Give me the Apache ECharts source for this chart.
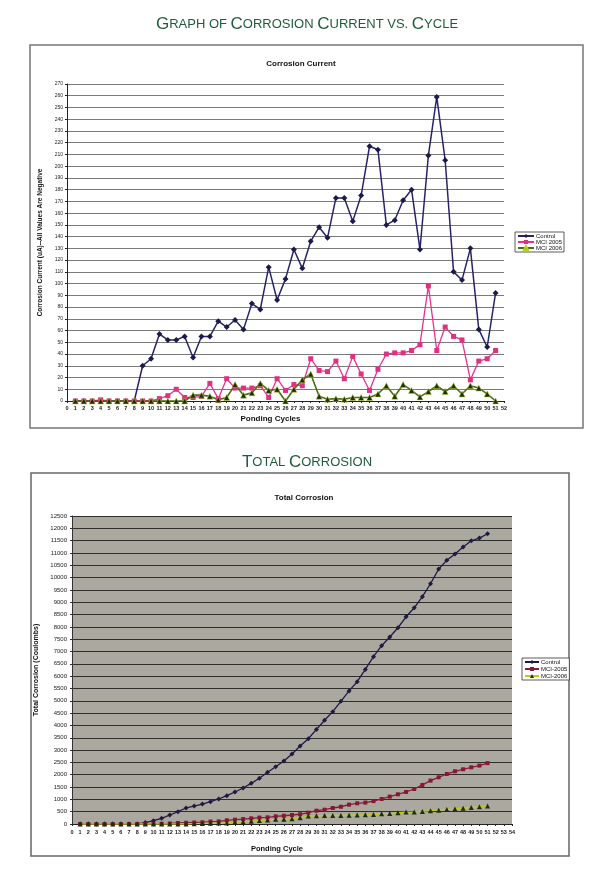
<!DOCTYPE html>
<html><head><meta charset="utf-8">
<script src="https://cdn.jsdelivr.net/npm/echarts@6/dist/echarts.min.js"></script>
<style>html,body{margin:0;padding:0;background:#fff}#c{width:614px;height:889px}</style>
</head><body><div id="c"></div>
<script>
const cycles = [1,2,3,4,5,6,7,8,9,10,11,12,13,14,15,16,17,18,19,20,21,22,23,24,25,26,27,28,29,30,31,32,33,34,35,36,37,38,39,40,41,42,43,44,45,46,47,48,49,50,51];
const topXTicks = [0,52];
const bottomXTicks = [0,54];
// Corrosion current (uA)
const controlCurrent = [0,0,0,0,0,0,0,0,30,36,57,52,52,55,37,55,55,68,63,69,61,83,78,114,86,104,129,113,136,148,139,173,173,153,175,217,214,150,154,171,180,129,209,259,205,110,103,130,61,46,92];
const mci2005Current = [0,0,0,1,0,0,0,0,0,0,2,4.5,10,3,3,4,15,2,19,11,11,11,13,3,19,9,14,13,36,26,25,34,19,38,23,9,27,40,41,41,43,48,98,43,63,55,52,18,34,36,43];
const mci2006Current = [0,0,0,0,0,0,0,0,0,0,0,0,0,0,5,5,4,1,3,14,5,7,15,9,10,0,10,18,23,4,1.5,2,1.5,3,3,3,6,13,4,14,9,3.5,8,13,8,13,6,13,11,6,0];
// Total corrosion (Coulombs)
const controlTotal = [0,0,0,0,0,0,0,0,60,135,230,365,500,650,730,810,905,1015,1150,1300,1460,1650,1855,2100,2325,2555,2840,3165,3460,3840,4210,4560,4980,5400,5775,6275,6790,7235,7590,7965,8410,8775,9225,9750,10350,10700,10955,11240,11495,11605,11780];
const mci2005Total = [0,0,0,0,0,0,0,0,0,5,10,20,40,50,60,70,100,105,150,175,200,230,260,270,310,335,365,395,460,540,580,650,700,785,840,870,930,1015,1110,1205,1300,1420,1585,1760,1895,2030,2140,2220,2300,2370,2470];
const mci2006Total = [0,0,0,0,0,0,0,0,0,0,0,0,0,0,12,24,34,36,43,78,90,107,143,165,189,189,213,256,320,335,340,345,350,357,365,372,385,415,425,460,482,492,512,542,562,592,607,640,665,700,730];

const pair = (vals) => cycles.map((c, i) => [c, vals[i]]);
const F = 'Liberation Sans, Arial, sans-serif';
const green = '#1f5c3c';
const capA = {fontFamily: F, fontSize: 17, fontWeight: 'normal', color: green};
const capB = {fontFamily: F, fontSize: 13, fontWeight: 'normal', color: green};

const chart = echarts.init(document.getElementById('c'));
chart.setOption({
  backgroundColor: '#fff',
  animation: false,
  title: [
    {text: '{a|G}{b|RAPH OF }{a|C}{b|ORROSION }{a|C}{b|URRENT VS. }{a|C}{b|YCLE}', left: 'center', top: 11,
     textStyle: {fontWeight: 'normal', rich: {a: capA, b: capB}}},
    {text: 'Corrosion Current', left: 296, top: 55, textAlign: 'center',
     textStyle: {fontFamily: F, fontSize: 8, fontWeight: 'bold', color: '#111'}},
    {text: '{a|T}{b|OTAL }{a|C}{b|ORROSION}', left: 'center', top: 449,
     textStyle: {fontWeight: 'normal', rich: {a: capA, b: capB}}},
    {text: 'Total Corrosion', left: 299, top: 489, textAlign: 'center',
     textStyle: {fontFamily: F, fontSize: 8, fontWeight: 'bold', color: '#111'}}
  ],
  graphic: [
    {type: 'rect', shape: {x: 30, y: 45, width: 553, height: 383}, style: {fill: 'none', stroke: '#777', lineWidth: 1.5}, z: -1},
    {type: 'rect', shape: {x: 31, y: 473, width: 538, height: 383}, style: {fill: 'none', stroke: '#666', lineWidth: 1.5}, z: -1}
  ],
  grid: [
    {left: 67, top: 84, width: 437, height: 317},
    {left: 72, top: 516, width: 440, height: 308, show: true, backgroundColor: '#aba89f', borderWidth: 0}
  ],
  legend: [
    {left: 515, top: 232, orient: 'vertical', itemGap: 0, itemWidth: 16, itemHeight: 5,
     padding: [1, 2], borderColor: '#333', borderWidth: 0.8, backgroundColor: '#fff',
     textStyle: {fontFamily: F, fontSize: 6, color: '#111', padding: [0, 0, 0, -3]},
     data: ['Control', 'MCI 2005', 'MCI 2006']},
    {left: 522, top: 658, orient: 'vertical', itemGap: 1, itemWidth: 14, itemHeight: 5,
     padding: [1, 2], borderColor: '#333', borderWidth: 0.8, backgroundColor: '#fff',
     textStyle: {fontFamily: F, fontSize: 6, color: '#111', padding: [0, 0, 0, -3]},
     data: ['Control ', 'MCI-2005', 'MCI-2006']}
  ],
  xAxis: [
    {gridIndex: 0, type: 'value', min: topXTicks[0], max: topXTicks[1], interval: 1,
     name: 'Ponding Cycles', nameLocation: 'middle', nameGap: 14,
     nameTextStyle: {fontFamily: F, fontSize: 8, fontWeight: 'bold', color: '#111', padding: [0, 30, 0, 0]},
     axisLine: {lineStyle: {color: '#222', width: 1}}, axisTick: {show: true, length: 2, lineStyle: {color: '#222'}},
     axisLabel: {fontFamily: F, fontSize: 5.5, color: '#222', margin: 4, fontWeight: 'bold'},
     splitLine: {show: false}},
    {gridIndex: 1, type: 'value', min: bottomXTicks[0], max: bottomXTicks[1], interval: 1,
     name: 'Ponding Cycle', nameLocation: 'middle', nameGap: 21,
     nameTextStyle: {fontFamily: F, fontSize: 7.5, fontWeight: 'bold', color: '#111', padding: [0, 30, 0, 0]},
     axisLine: {lineStyle: {color: '#222', width: 1}}, axisTick: {show: true, length: 2, lineStyle: {color: '#222'}},
     axisLabel: {fontFamily: F, fontSize: 5.5, color: '#222', margin: 5, fontWeight: 'bold'},
     splitLine: {show: false}}
  ],
  yAxis: [
    {gridIndex: 0, type: 'value', min: 0, max: 270, interval: 10,
     name: 'Corrosion Current (uA)--All Values Are Negative', nameLocation: 'middle', nameGap: 19,
     nameTextStyle: {fontFamily: F, fontSize: 6.5, fontWeight: 'bold', color: '#111'},
     axisLine: {show: true, lineStyle: {color: '#222', width: 1}}, axisTick: {show: true, length: 2, lineStyle: {color: '#222'}},
     axisLabel: {fontFamily: F, fontSize: 5, color: '#222', margin: 4},
     splitLine: {show: true, lineStyle: {color: '#7a7a7a', width: 1.2}}},
    {gridIndex: 1, type: 'value', min: 0, max: 12500, interval: 500,
     name: 'Total Corrosion (Coulombs)', nameLocation: 'middle', nameGap: 27,
     nameTextStyle: {fontFamily: F, fontSize: 7, fontWeight: 'bold', color: '#111'},
     axisLine: {show: true, lineStyle: {color: '#333', width: 1}}, axisTick: {show: true, length: 2, lineStyle: {color: '#333'}},
     axisLabel: {fontFamily: F, fontSize: 6, color: '#222', margin: 5, formatter: (v) => String(v)},
     splitLine: {show: true, lineStyle: {color: '#2e2e2a', width: 1}}}
  ],
  series: [
    {name: 'Control', type: 'line', xAxisIndex: 0, yAxisIndex: 0, data: pair(controlCurrent),
     symbol: 'diamond', symbolSize: 6, lineStyle: {color: '#28246a', width: 1.5},
     itemStyle: {color: '#1c1a4a', borderWidth: 0}},
    {name: 'MCI 2005', type: 'line', xAxisIndex: 0, yAxisIndex: 0, data: pair(mci2005Current),
     symbol: 'rect', symbolSize: 5, lineStyle: {color: '#e8328e', width: 1.3},
     itemStyle: {color: '#e0307f', borderWidth: 0}},
    {name: 'MCI 2006', type: 'line', xAxisIndex: 0, yAxisIndex: 0, data: pair(mci2006Current),
     symbol: 'triangle', symbolSize: 6, lineStyle: {color: '#4a6e10', width: 1.6},
     itemStyle: {color: '#1a3010', borderColor: '#b8d020', borderWidth: 0.5}},
    {name: 'Control ', type: 'line', xAxisIndex: 1, yAxisIndex: 1, data: pair(controlTotal),
     symbol: 'diamond', symbolSize: 5, lineStyle: {color: '#1e1a48', width: 1.3},
     itemStyle: {color: '#1e1a40', borderWidth: 0}},
    {name: 'MCI-2005', type: 'line', xAxisIndex: 1, yAxisIndex: 1, data: pair(mci2005Total),
     symbol: 'rect', symbolSize: 4, lineStyle: {color: '#8e1a3a', width: 1.3},
     itemStyle: {color: '#8a1634', borderWidth: 0}},
    {name: 'MCI-2006', type: 'line', xAxisIndex: 1, yAxisIndex: 1, data: pair(mci2006Total),
     symbol: 'triangle', symbolSize: 5, lineStyle: {color: '#c4cc10', width: 1.3},
     itemStyle: {color: '#1a2e10', borderWidth: 0}}
  ]
});
</script></body></html>
